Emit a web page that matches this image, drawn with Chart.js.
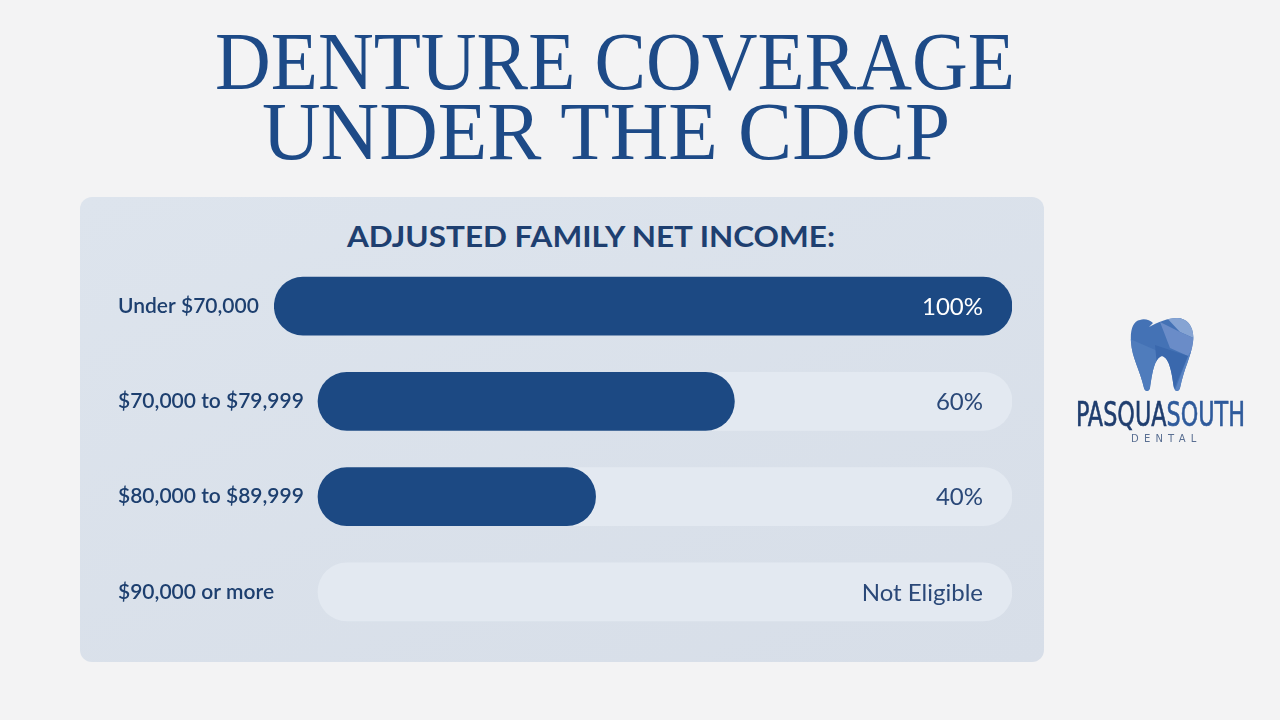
<!DOCTYPE html>
<html><head><meta charset="utf-8">
<script src="https://cdn.jsdelivr.net/npm/chart.js@4.4.1/dist/chart.umd.min.js"></script>
<style>
html,body{margin:0;padding:0;width:1280px;height:720px;overflow:hidden;background:#f3f3f4;}
#panel{position:absolute;left:80px;top:197px;width:964px;height:465px;border-radius:12px;background:linear-gradient(160deg,#dde4ed,#d7dee8);}
.tl{position:absolute;white-space:nowrap;font-family:"Liberation Serif","DejaVu Serif",serif;color:#1d4a87;font-size:82px;line-height:82px;transform-origin:0 0;}
#sub{position:absolute;white-space:nowrap;font-family:Lato,"Open Sans",sans-serif;font-weight:700;color:#1e3f70;font-size:28px;line-height:28px;transform-origin:0 0;}
#c{position:absolute;left:0;top:0;}
#logoText{position:absolute;white-space:nowrap;font-family:"DejaVu Sans Condensed","DejaVu Sans",sans-serif;font-weight:400;font-size:34px;line-height:34px;transform-origin:0 0;-webkit-text-stroke:0.6px currentColor;}
#dental{position:absolute;left:1131px;top:434px;font-family:"DejaVu Sans",sans-serif;font-size:10px;line-height:10px;letter-spacing:5.2px;color:#5a6f92;white-space:nowrap;}
</style></head>
<body>
<div id="panel"></div>
<div class="tl" id="t1">DENTURE COVERAGE</div>
<div class="tl" id="t2">UNDER THE CDCP</div>
<div id="sub">ADJUSTED FAMILY NET INCOME:</div>
<canvas id="c" width="1280" height="720"></canvas>
<svg style="position:absolute;left:0;top:0" width="1280" height="720">
  <defs><clipPath id="tc"><path d="M1140,320 C1144,318 1150,320 1153,323 L1149,327 C1158,322 1168,318 1177,318 C1188,318 1195,328 1193,342 C1191,357 1184,368 1180,388 C1179,392 1175,392 1174,388 C1172,375 1170,358 1162,356 C1154,358 1152,375 1150,388 C1149,392 1145,392 1144,388 C1140,370 1132,358 1131,342 C1130,330 1133,321 1140,320 Z"/></clipPath></defs>
  <g clip-path="url(#tc)">
    <rect x="1125" y="312" width="75" height="85" fill="#4472b5"/>
    <polygon points="1165,316 1198,316 1198,340 1180,332" fill="#86a4d3"/>
    <polygon points="1160,322 1180,332 1198,340 1188,356 1170,348" fill="#6a8cc8"/>
    <polygon points="1128,338 1160,352 1150,398 1125,398" fill="#4f7cbc"/>
    <polygon points="1188,356 1198,340 1198,398 1172,398" fill="#5a84c3"/>
    <polygon points="1155,345 1188,356 1170,398 1160,398" fill="#3a68ad"/>
  </g>
</svg>
<div id="logoText"><span style="color:#1f3d6e">PASQUA</span><span style="color:#2e5a9b">SOUTH</span></div>
<div id="dental">DENTAL</div>
<script>
// ---- data ----
const categories = ['Under $70,000', '$70,000 to $79,999', '$80,000 to $89,999', '$90,000 or more'];
const coverage = [100, 60, 40, 0];
const barStart = [-6.3, 0, 0, 0];
const trackMax = [100, 100, 100, 100];
const valueLabels = ['100%', '60%', '40%', 'Not Eligible'];

// fit html texts to their widths in the reference
function fit(el, left, width, top) {
  const w = el.getBoundingClientRect().width;
  el.style.left = left + 'px'; el.style.top = top + 'px';
  el.style.transform = 'scaleX(' + (width / w) + ')';
}
fit(document.getElementById('t1'), 215, 800, 21);
fit(document.getElementById('t2'), 262, 688, 91);
fit(document.getElementById('sub'), 347, 488, 222);
fit(document.getElementById('logoText'), 1076, 169, 397);

const barColor = '#1c4983';
const trackColor = '#e3e9f1';

const valueLabelPlugin = {
  id: 'valueLabels',
  afterDatasetsDraw(chart) {
    const ctx = chart.ctx, xs = chart.scales.x, ys = chart.scales.y;
    ctx.save();
    ctx.font = '400 24px Lato, "Open Sans", sans-serif';
    ctx.textAlign = 'right';
    ctx.textBaseline = 'middle';
    valueLabels.forEach((t, i) => {
      ctx.fillStyle = coverage[i] >= 100 ? '#ffffff' : '#2a4878';
      ctx.fillText(t, xs.getPixelForValue(trackMax[i]) - 29, ys.getPixelForValue(i) + 1);
    });
    ctx.restore();
  }
};

new Chart(document.getElementById('c'), {
  type: 'bar',
  data: {
    labels: categories,
    datasets: [
      {
        label: 'Coverage',
        data: coverage.map((v, i) => v > 0 ? [barStart[i], v] : null),
        backgroundColor: barColor,
        borderRadius: 29,
        borderSkipped: false,
        barThickness: 58,
        grouped: false,
        order: 1
      },
      {
        label: 'Track',
        data: trackMax.map(v => [0, v]),
        backgroundColor: trackColor,
        borderRadius: 29,
        borderSkipped: false,
        barThickness: 58,
        grouped: false,
        order: 2
      }
    ]
  },
  options: {
    indexAxis: 'y',
    responsive: false,
    animation: false,
    layout: { padding: { left: 274, right: 268, top: 258.5, bottom: 80.5 } },
    plugins: { legend: { display: false }, tooltip: { enabled: false }, title: { display: false } },
    scales: {
      x: { min: -6.34, max: 100, display: false },
      y: {
        grid: { display: false },
        border: { display: false },
        afterFit(axis) { axis.width = 0; },
        ticks: {
          mirror: true,
          crossAlign: 'near',
          padding: -156,
          color: '#1d3f6f',
          font: { family: 'Lato, "Open Sans", sans-serif', size: 21, weight: '600' }
        }
      }
    }
  },
  plugins: [valueLabelPlugin]
});
</script>
</body></html>
